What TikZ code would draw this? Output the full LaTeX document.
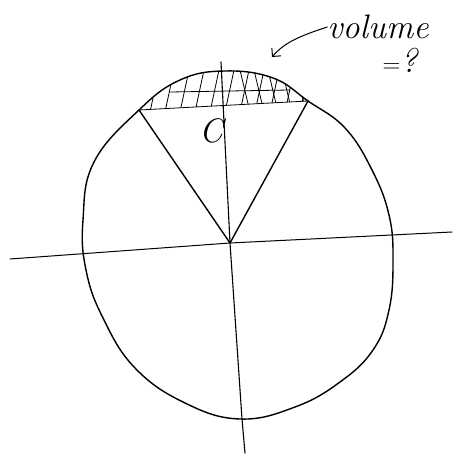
\documentclass[tikz,border=0pt]{standalone}
\usetikzlibrary{arrows.meta}
\begin{document}
\begin{tikzpicture}[x=1pt,y=-1pt,
  pen/.style={line width=1.4pt,line cap=round,line join=round},
  thin pen/.style={line width=0.8pt,line cap=round},
  hand/.style={font=\itshape\fontsize{34}{36}\selectfont,inner sep=0pt}]
\useasboundingbox (0,0) rectangle (452,457);
% points
\coordinate (O) at (230,243);
\coordinate (L) at (139,110);
\coordinate (R) at (308,101);
% sphere outline
\draw[pen] plot[smooth cycle,tension=0.7] coordinates{
 (225,71) (273,78) (308,101) (345,128) (372,170) (389,215) (393,260) (389,310)
 (373,350) (340,382) (295,407) (240,419) (185,403) (135,368) (103,318) (86,270)
 (83,220) (94,162) (139,110) (180,80)};
% axes
\draw[pen,line width=1pt] (10,259) -- (O) -- (452,232);
\draw[pen,line width=1.1pt] (221,62) -- (O) -- (242,419) -- (245,453);
% cone
\draw[pen] (L) -- (O) -- (R);
\draw[thin pen] (L) -- (R);
% hatching of cap
\begin{scope}
\clip plot[smooth,tension=0.7] coordinates{(139,110) (180,80) (225,71) (273,78) (308,101)} -- cycle;
\foreach \x in {150,165,...,300} {\draw[thin pen] (\x,112) -- (\x+9,70);}
\foreach \x in {240,254,...,300} {\draw[thin pen] (\x,70) -- (\x+10,112);}
\draw[thin pen] (170,92) -- (290,90);
\end{scope}
% labels
\node[hand] (c) at (211,131) {C};
\node[hand] (vol) at (378,27) {volume};
\node[hand] (q) at (400,60) {$=$?};
\coordinate (tip) at (272,57);
\draw[pen,line width=1pt,-{Straight Barb[length=6pt]}] (vol.west) .. controls (300,36) and (285,42) .. (tip);
\end{tikzpicture}
\end{document}
